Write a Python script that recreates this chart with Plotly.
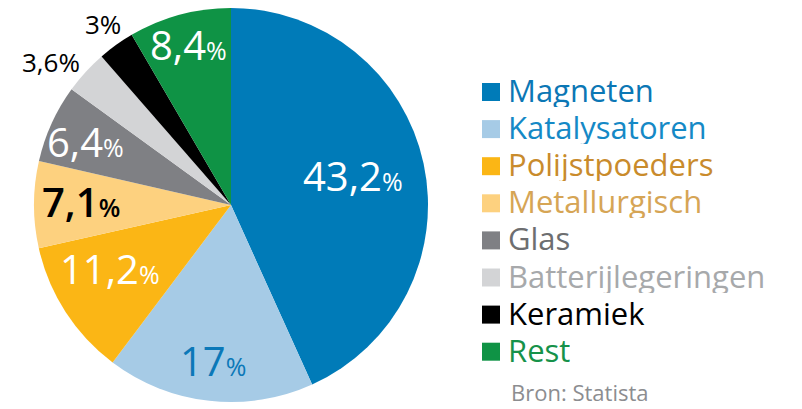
import math
import plotly.graph_objects as go

labels = ["Magneten", "Katalysatoren", "Polijstpoeders", "Metallurgisch",
          "Glas", "Batterijlegeringen", "Keramiek", "Rest"]
values = [43.2, 17, 11.2, 7.1, 6.4, 3.6, 3, 8.4]
slice_colors = ["#007bb8", "#a6cbe6", "#fbb615", "#fdd17f",
                "#7f8084", "#d3d4d6", "#000000", "#0f9345"]
legend_colors = ["#0b77b5", "#1589c6", "#c98b2c", "#d6a555",
                 "#6d6e70", "#a7a9ab", "#000000", "#16924a"]
source = "Bron: Statista"

# label styling: radial position (fraction of radius), angle nudge (deg), colour, size, weight
lab_r = [0.635, 0.81, 0.70, 0.76, 0.80, 1.16, 1.11, 0.83]
lab_da = [0, 0, 4, 0, -2, -4.5, 0, 0]
lab_col = ["white", "#0b78b8", "white", "black", "white", "black", "black", "white"]
lab_big = [True, True, True, True, True, False, False, True]
lab_weight = [400, 400, 400, 600, 400, 400, 400, 400]

W, H = 802, 409
CX, CY, R = 231, 205, 197
FONT = "Open Sans"

fig = go.Figure(go.Pie(
    labels=labels, values=values, sort=False, direction="clockwise", rotation=0,
    marker=dict(colors=slice_colors, line=dict(width=0)),
    textinfo="none", hoverinfo="label+percent", showlegend=False,
    domain=dict(x=[(CX - R) / W, (CX + R) / W], y=[(H - CY - R) / H, (H - CY + R) / H]),
))

total = sum(values)
cum = 0
for v, f, da, col, big, wt in zip(values, lab_r, lab_da, lab_col, lab_big, lab_weight):
    mid = (cum + v / 2) / total * 2 * math.pi + math.radians(da)
    cum += v
    px = CX + R * f * math.sin(mid)
    py = CY - R * f * math.cos(mid) - 3
    num = f"{v:g}".replace(".", ",")
    if big:
        txt = f"{num}<span style='font-size:25px'>%</span>"
        size = 40
    else:
        txt = f"{num}%"
        size = 26
    fig.add_annotation(x=px / W, y=(H - py) / H, xref="paper", yref="paper",
                       text=txt, showarrow=False, xanchor="center", yanchor="middle",
                       font=dict(family=FONT, size=size, color=col, weight=wt))

# legend
y0, dy = 92, 37.1
for i, (lab, sc, lc) in enumerate(zip(labels, slice_colors, legend_colors)):
    yc = y0 + i * dy
    fig.add_shape(type="rect", xref="paper", yref="paper",
                  x0=482 / W, x1=500 / W, y0=(H - yc - 9) / H, y1=(H - yc + 9) / H,
                  fillcolor=sc, line=dict(width=0))
    fig.add_annotation(x=507 / W, y=(H - yc + 2) / H, xref="paper", yref="paper",
                       text=lab, showarrow=False, xanchor="left", yanchor="middle",
                       height=34, borderpad=0,
                       font=dict(family=FONT, size=31, color=lc))

fig.add_annotation(x=509 / W, y=(H - 392) / H, xref="paper", yref="paper",
                   text=source, showarrow=False, xanchor="left", yanchor="middle",
                   font=dict(family=FONT, size=22, color="#8c8d90"))

fig.update_layout(width=W, height=H, margin=dict(l=0, r=0, t=0, b=0),
                  paper_bgcolor="white", plot_bgcolor="white",
                  font=dict(family=FONT))

fig.write_html("out.html", config={"displayModeBar": False},
               post_script="document.body.style.margin='0';document.body.style.overflow='hidden';")
